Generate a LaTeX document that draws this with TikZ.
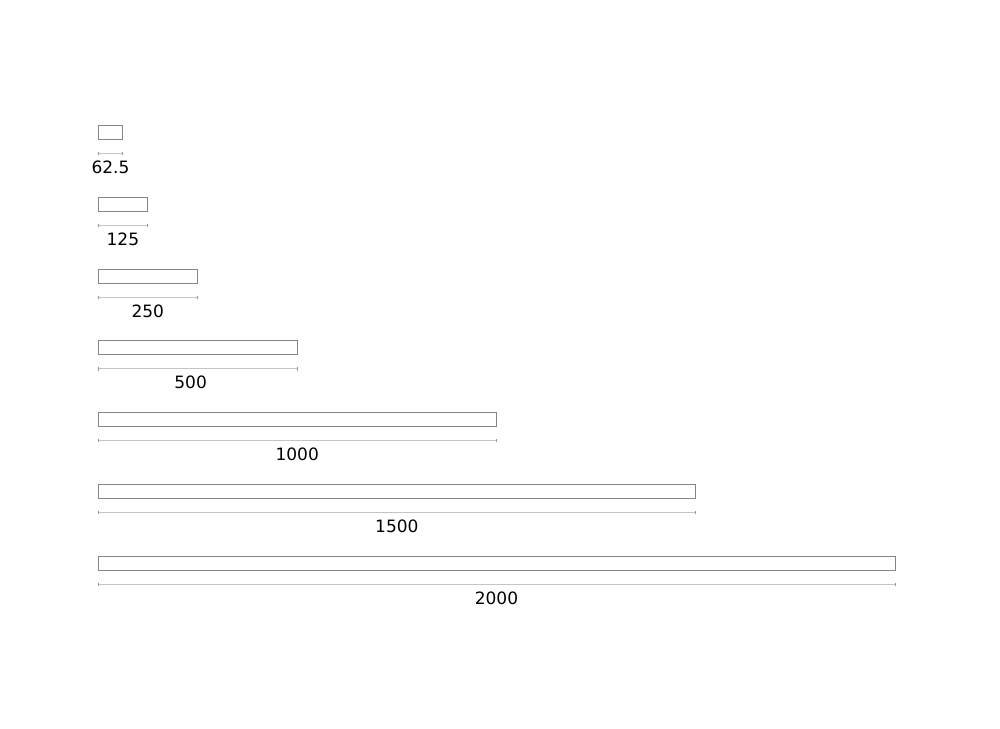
\documentclass[tikz,border=0pt]{standalone}
\usepackage{fontspec}
\setmainfont{DejaVu Sans}
\definecolor{barc}{HTML}{868686}
\definecolor{dimc}{HTML}{C4C4C4}
\definecolor{tickc}{HTML}{959595}
\begin{document}
\begin{tikzpicture}[x=1pt,y=-1pt,
  barbox/.style={draw=barc, line width=1pt, fill=white, inner sep=0pt, outer sep=0pt, anchor=north west, minimum height=14pt},
  dimline/.style={draw=dimc, line width=1pt},
  dimtick/.style={draw=tickc, line width=1pt},
  dimlabel/.style={anchor=base, inner sep=0pt, font=\fontsize{17}{20}\selectfont, text=black}]
\useasboundingbox (0,0) rectangle (1000,728);
\fill[white] (0,0) rectangle (1000,728);
\foreach \v/\i/\off in {62.5/0/0, 125/1/0, 250/2/0, 500/3/-7, 1000/4/0, 1500/5/0, 2000/6/0}{
  \pgfmathsetmacro\w{\v*0.3985}
  \pgfmathsetmacro\t{125.5+71.8*\i}
  \pgfmathsetmacro\r{98+\w}
  \pgfmathsetmacro\d{\t+28}
  \pgfmathsetmacro\m{98+\w/2+\off}
  \pgfmathsetmacro\b{\t+48}
  \node[barbox, minimum width=\w pt] (bar\i) at (98,\t) {};
  \coordinate (dimL\i) at (98,\d);
  \coordinate (dimR\i) at (\r,\d);
  \draw[dimline] (dimL\i) -- (dimR\i);
  \draw[dimtick] (dimL\i) ++(0,-1.6) -- ++(0,3.2);
  \draw[dimtick] (dimR\i) ++(0,-1.6) -- ++(0,3.2);
  \node[dimlabel] (lab\i) at (\m,\b) {\v};
}
\end{tikzpicture}
\end{document}
